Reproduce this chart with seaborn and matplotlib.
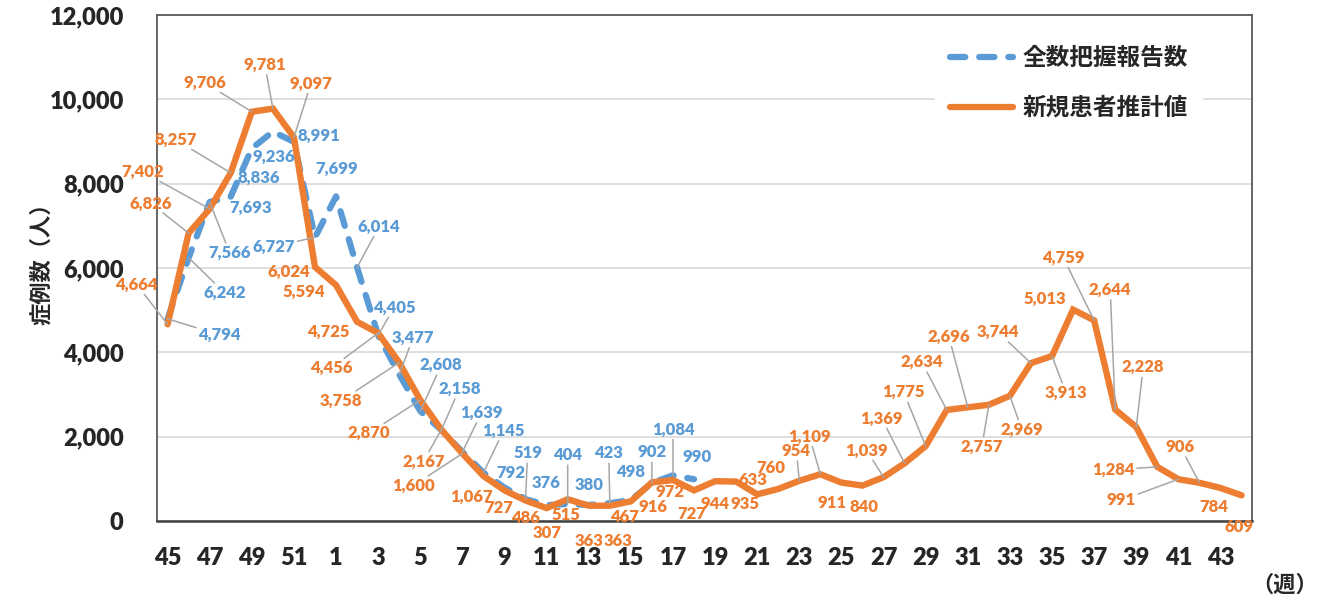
import numpy as np
import pandas as pd
import matplotlib
matplotlib.use("Agg")
import matplotlib.pyplot as plt
import seaborn as sns

# ---------------------------------------------------------------
# data
# ---------------------------------------------------------------
weeks = list(range(45, 53)) + list(range(1, 45))

estimate = [4664, 6826, 7402, 8257, 9706, 9781, 9097, 6024,
            5594, 4725, 4456, 3758, 2870, 2167, 1600, 1067, 727, 486,
            307, 515, 363, 363, 467, 916, 972, 727, 944, 935, 633, 760,
            954, 1109, 911, 840, 1039, 1369, 1775, 2634, 2696, 2757, 2969,
            3744, 3913, 5013, 4759, 2644, 2228, 1284, 991, 906, 784, 609]

reported = [4794, 6242, 7566, 7693, 8836, 9236, 8991, 6727,
            7699, 6014, 4405, 3477, 2608, 2158, 1639, 1145, 792, 519,
            376, 404, 380, 423, 498, 902, 1084, 990]

reported_name = "全数把握報告数"
estimate_name = "新規患者推計値"

# label placement: (dx px, dy px, leader line)
est_lab = [(-31, 40, 1), (-38, 30, 1), (-67, 37, 1), (-55, 33, 1), (-47, 29, 1),
           (-8, 44, 1), (17, 54, 1), (-26, -5, 0), (-32, -7, 0), (-29, -10, 0),
           (-47, -35, 1), (-58, -38, 1), (-51, -33, 1), (-18, -32, 1), (-49, -32, 1),
           (-12, -21, 0), (-6, -18, 0), (0, -17, 0), (0, -25, 0), (-2, -16, 0),
           (0, -35, 0), (8, -35, 0), (-6, -16, 0), (1, -25, 0), (-3, -12, 0),
           (-2, -24, 0), (0, -23, 0), (9, -22, 0), (-4, 14, 0), (-7, 21, 0),
           (-3, 30, 1), (-11, 38, 1), (-9, -20, 0), (2, -21, 0), (-17, 27, 1),
           (-23, 45, 1), (-22, 54, 1), (-25, 48, 1), (-19, 71, 1), (-7, -42, 1),
           (12, -34, 1), (-33, 31, 1), (14, -37, 1), (-28, 11, 0), (-31, 63, 1),
           (-5, 120, 1), (7, 60, 1), (-44, -3, 1), (-57, -21, 1), (-19, 36, 1),
           (-7, -19, 0), (-2, -32, 0)]

rep_lab = [(52, -16, 1), (36, -35, 1), (20, -51, 1), (20, -11, 0), (7, -29, 0),
           (1, -25, 0), (25, 6, 0), (-41, -9, 1), (1, 28, 0), (22, 41, 1),
           (16, 28, 1), (14, 37, 1), (21, 46, 1), (18, 41, 1), (19, 39, 1),
           (20, 42, 1), (6, 15, 0), (2, 46, 1), (-1, 22, 0), (0, 49, 1),
           (0, 20, 0), (-1, 50, 1), (0, 28, 0), (0, 31, 1), (0, 46, 1), (3, 22, 0)]

BLUE = "#5B9BD5"
ORANGE = "#ED7D31"
LEADER = "#A6A6A6"

# ---------------------------------------------------------------
# style
# ---------------------------------------------------------------
sns.set_style("white")
plt.rcParams["font.family"] = ["Lato", "Noto Sans CJK JP", "DejaVu Sans"]
plt.rcParams["lines.scale_dashes"] = False
JP = ["Noto Sans CJK JP", "DejaVu Sans"]

est_df = pd.DataFrame({"pos": np.arange(len(estimate)), "value": estimate})
rep_df = pd.DataFrame({"pos": np.arange(len(reported)), "value": reported})

fig = plt.figure(figsize=(13.22, 6.01), dpi=100)
ax = fig.add_axes([0.1188, 0.1331, 0.8283, 0.8419])

sns.lineplot(data=rep_df, x="pos", y="value", ax=ax, color=BLUE, lw=4.5,
             label=reported_name)
sns.lineplot(data=est_df, x="pos", y="value", ax=ax, color=ORANGE, lw=4.6,
             label=estimate_name)
rep_line = ax.lines[0]
rep_line.set_dashes((11, 10))
rep_line.set_dash_capstyle("round")
ax.lines[1].set_solid_joinstyle("miter")

ax.set_xlim(-0.5, len(weeks) - 0.5)
ax.set_ylim(0, 12000)
ax.set_yticks(range(0, 12001, 2000))
ax.set_yticklabels([f"{v:,}" for v in range(0, 12001, 2000)],
                   fontsize=17, fontweight="heavy")
ax.set_xticks(range(0, len(weeks), 2))
ax.set_xticklabels([str(w) for w in weeks[::2]], fontsize=17,
                   fontweight="heavy")
ax.tick_params(axis="y", length=0, pad=24)
ax.tick_params(axis="x", length=0, pad=19)
ax.grid(axis="y", color="#D9D9D9", lw=1.2)
ax.set_axisbelow(True)
for s in ax.spines.values():
    s.set_visible(True)
    s.set_color("#595959")
    s.set_linewidth(1.3)
ax.spines["bottom"].set_color("#404040")
ax.spines["bottom"].set_linewidth(1.8)
ax.set_xlabel("")
ax.set_ylabel("症例数（人）", family=JP, fontsize=16, fontweight="bold")
ax.yaxis.set_label_coords(-0.095, 0.52)

fig.text(0.972, 0.026, "（週）", family=JP, fontsize=16, fontweight="bold",
         ha="center", va="center")


# ---------------------------------------------------------------
# data labels
# ---------------------------------------------------------------
def put_labels(values, placement, color):
    for i, (v, (dx, dy, lead)) in enumerate(zip(values, placement)):
        arrow = None
        if lead:
            arrow = dict(arrowstyle="-", color=LEADER, lw=1.1,
                         shrinkA=1, shrinkB=0)
        ax.annotate(f"{v:,}", xy=(i, v), xytext=(dx, dy),
                    textcoords="offset pixels", ha="center", va="center",
                    color=color, fontsize=12, fontweight="heavy",
                    bbox=dict(boxstyle="square,pad=0.05", fc="none", ec="none"),
                    arrowprops=arrow, zorder=4)


put_labels(reported, rep_lab, BLUE)
put_labels(estimate, est_lab, ORANGE)

leg = ax.legend(loc="upper left", bbox_to_anchor=(0.70, 0.99),
                frameon=True, facecolor="white", edgecolor="white",
                framealpha=1, handlelength=2.7, handletextpad=0.4,
                labelspacing=1.1, borderpad=0.6,
                prop={"family": JP, "size": 17, "weight": "bold"})
leg.set_zorder(5)
for h in leg.get_lines():
    h.set_linewidth(4.5)
    h.set_solid_capstyle("round")
    h.set_dash_capstyle("round")

fig.savefig("out.png", dpi=100)
